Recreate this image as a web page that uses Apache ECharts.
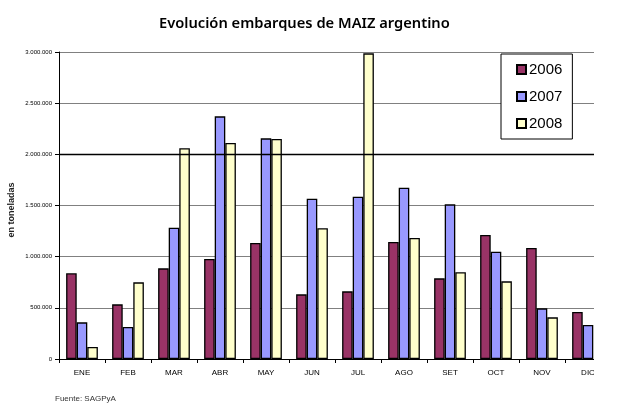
<!DOCTYPE html>
<html>
<head>
<meta charset="utf-8">
<script src="https://cdn.jsdelivr.net/npm/echarts@6/dist/echarts.min.js"></script>
<style>
html,body{margin:0;padding:0;background:#fff;}
#wrap{width:594px;height:408px;overflow:hidden;position:relative;}
#chart{width:617px;height:408px;}
</style>
</head>
<body>
<div id="wrap"><div id="chart"></div></div>
<script>
const months = ['ENE','FEB','MAR','ABR','MAY','JUN','JUL','AGO','SET','OCT','NOV','DIC'];
const years = ['2006','2007','2008'];
const s2006 = [838000, 534000, 886000, 977000, 1134000, 632000, 661000, 1143000, 788000, 1212000, 1085000, 459000];
const s2007 = [358000, 313000, 1283000, 2371000, 2156000, 1567000, 1586000, 1674000, 1511000, 1049000, 495000, 332000];
const s2008 = [117000, 749000, 2059000, 2111000, 2150000, 1277000, 2987000, 1182000, 847000, 759000, 407000, null];
const yTicks = [0, 500000, 1000000, 1500000, 2000000, 2500000, 3000000];
const colors = ['#993366', '#9999FF', '#FFFFCC'];

function fmt(v){ return String(v).replace(/\B(?=(\d{3})+(?!\d))/g, '.'); }

const chart = echarts.init(document.getElementById('chart'), null, {renderer:'canvas'});
const seriesData = [s2006, s2007, s2008];
chart.setOption({
  animation:false,
  backgroundColor:'#fff',
  title:{
    text:'Evolución embarques de MAIZ argentino',
    left:154, top:11,
    textStyle:{fontFamily:'Noto Sans', fontWeight:600, fontSize:14.7, color:'#000'}
  },
  graphic:[{
    type:'text', left:55, top:395,
    style:{text:'Fuente: SAGPyA', font:'8px "Liberation Sans"', fill:'#333'}
  }],
  legend:{
    orient:'vertical', left:501, top:54,
    data:years,
    itemWidth:9, itemHeight:9, itemGap:12,
    padding:[8,10,8,15],
    borderColor:'#000', borderWidth:1, backgroundColor:'#fff',
    textStyle:{fontFamily:'Liberation Sans', fontSize:15, color:'#000', padding:[0,0,0,-2]},
    icon:'rect'
  },
  grid:{left:59, top:52, right:6, bottom:49, containLabel:false, outerBoundsMode:'none'},
  xAxis:{
    type:'category', data:months,
    axisLine:{lineStyle:{color:'#000', width:1}},
    axisTick:{show:true, length:4, lineStyle:{color:'#000'}},
    axisLabel:{fontFamily:'Liberation Sans', fontSize:8, color:'#000', margin:10}
  },
  yAxis:{
    type:'value', min:0, max:3000000, interval:500000,
    name:'en toneladas', nameLocation:'middle', nameGap:43, nameRotate:90,
    nameMoveOverlap:false,
    nameTextStyle:{fontFamily:'Liberation Sans', fontSize:9, fontWeight:'bold', color:'#222', padding:[0,9,0,0]},
    axisLine:{show:true, lineStyle:{color:'#000', width:1}},
    axisTick:{show:true, length:4, lineStyle:{color:'#000'}},
    axisLabel:{fontFamily:'Liberation Sans', fontSize:6, color:'#000', margin:7, formatter:fmt,
      customValues: yTicks},
    splitLine:{show:true, lineStyle:{color:'#808080', width:1}}
  },
  series: years.map((y,i)=>({
    name:y, type:'bar', data:seriesData[i],
    barGap:'0%', barCategoryGap:'31%',
    itemStyle:{color:colors[i], borderColor:'#000', borderWidth:1.3},
    markLine: i===0 ? {silent:true, symbol:'none', label:{show:false},
      lineStyle:{color:'#000', type:'solid', width:1.3},
      data:[{yAxis:yTicks[4]}]} : undefined
  }))
});
</script>
</body>
</html>
